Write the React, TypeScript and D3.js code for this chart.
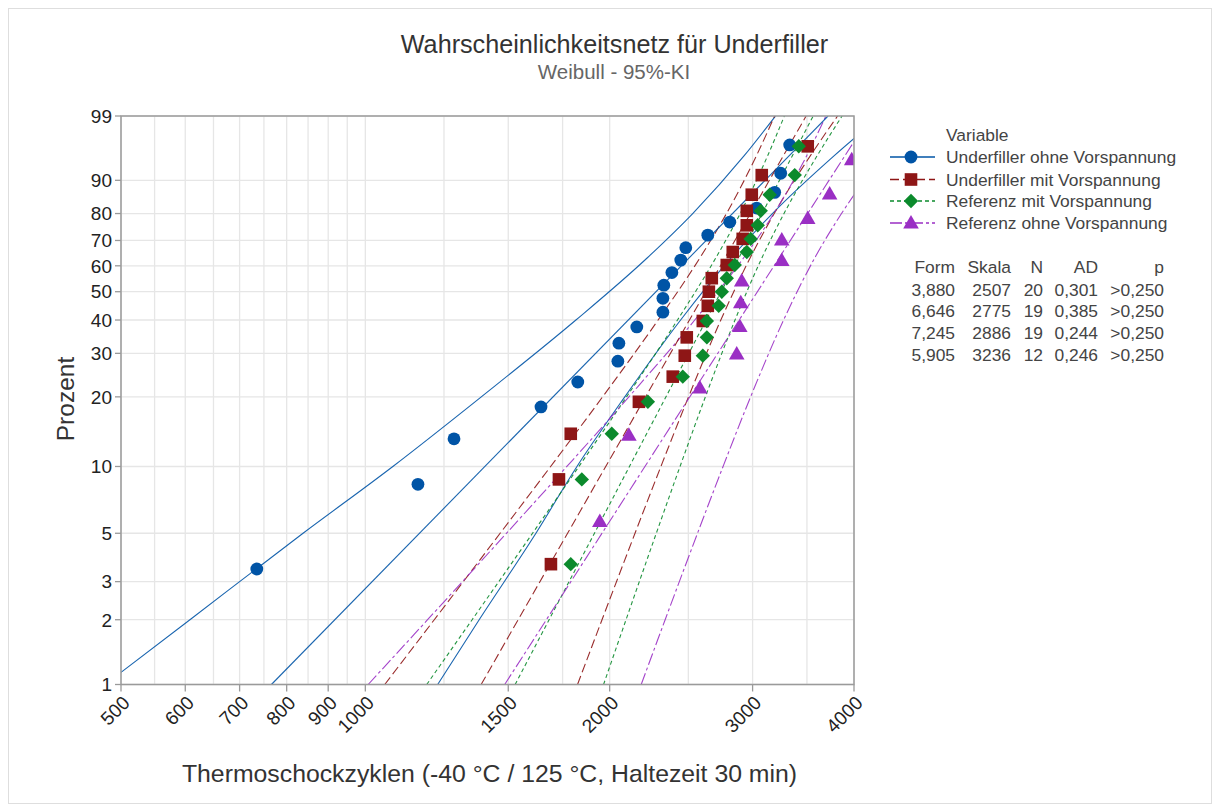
import React from 'react';
import * as d3 from 'd3';

// ---------- data ----------
const seriesNames = [
  'Underfiller ohne Vorspannung',
  'Underfiller mit Vorspannung',
  'Referenz mit Vorspannung',
  'Referenz ohne Vorspannung',
];

// median-rank plotting positions (%)
const ranks20 = [3.43, 8.33, 13.24, 18.14, 23.04, 27.94, 32.84, 37.75, 42.65, 47.55, 52.45, 57.35, 62.25, 67.16, 72.06, 76.96, 81.86, 86.76, 91.67, 96.57];
const ranks19 = [3.61, 8.76, 13.92, 19.07, 24.23, 29.38, 34.54, 39.69, 44.85, 50.0, 55.15, 60.31, 65.46, 70.62, 75.77, 80.93, 86.08, 91.24, 96.39];
const ranks12 = [5.65, 13.71, 21.77, 29.84, 37.9, 45.97, 54.03, 62.1, 70.16, 78.23, 86.29, 94.35];

// observed cycles
const cyclesUohne = [735, 1161, 1286, 1646, 1827, 2047, 2053, 2160, 2326, 2326, 2332, 2386, 2447, 2482, 2642, 2812, 3035, 3194, 3249, 3333];
const cyclesUmit = [1693, 1732, 1791, 2173, 2392, 2475, 2489, 2605, 2642, 2650, 2672, 2788, 2836, 2917, 2951, 2951, 2993, 3079, 3508];
const cyclesRmit = [1791, 1848, 2012, 2229, 2461, 2605, 2635, 2635, 2725, 2749, 2788, 2852, 2951, 2984, 3044, 3070, 3149, 3381, 3420];
const cyclesRohne = [1945, 2112, 2583, 2868, 2893, 2901, 2909, 3259, 3259, 3508, 3733, 3974];

// fitted lines: cycles at 1 % and 99 %
const fitPercent = [1, 99];
const fitUohne = [766.1, 3716];
const fitUmit = [1388.9, 3491.8];
const fitRmit = [1529.5, 3563.1];
const fitRohne = [1484.9, 4191.0];

// 95% confidence bands, cycles at these percent levels
const ciPercent = [1, 2, 5, 10, 20, 40, 63.2, 80, 95, 99];
const ciLoUohne = [478, 608, 838, 1081.2, 1389.5, 1817.4, 2225.9, 2531.2, 2927.7, 3201.4];
const ciHiUohne = [1227.8, 1381.2, 1622.4, 1822.8, 2087.7, 2446.0, 2823.6, 3173.5, 3779.2, 4313.3];
const ciLoUmit = [1056.6, 1216.0, 1465.8, 1691.6, 1960.2, 2294.6, 2584.2, 2785.8, 3032.2, 3193.6];
const ciHiUmit = [1825.7, 1957.1, 2149.1, 2312.9, 2501.4, 2741.5, 2979.9, 3189.9, 3533.2, 3817.9];
const ciLoRmit = [1190.2, 1353.9, 1607.0, 1832.8, 2098.1, 2424.3, 2703.4, 2896.4, 3130.5, 3283.0];
const ciHiRmit = [1965.6, 2095.0, 2282.9, 2441.9, 2623.9, 2854.0, 3080.9, 3279.5, 3601.8, 3867.2];
const ciLoRohne = [1008.1, 1193.1, 1492.4, 1771.4, 2112.0, 2546.0, 2925.4, 3186.8, 3496.9, 3693.3];
const ciHiRohne = [2187.2, 2340.9, 2566.0, 2758.9, 2983.1, 3275.7, 3579.6, 3860.8, 4342.4, 4755.7];

// table
const tableHeader = ['Form', 'Skala', 'N', 'AD', 'p'];
const tableRows = [
  ['3,880', '2507', '20', '0,301', '>0,250'],
  ['6,646', '2775', '19', '0,385', '>0,250'],
  ['7,245', '2886', '19', '0,244', '>0,250'],
  ['5,905', '3236', '12', '0,246', '>0,250'],
];

const yTicks = [1, 2, 3, 5, 10, 20, 30, 40, 50, 60, 70, 80, 90, 99];
const xTickLabels = [500, 600, 700, 800, 900, 1000, 1500, 2000, 3000, 4000];
const xGrid = [500, 550, 600, 650, 700, 750, 800, 850, 900, 950, 1000, 1250, 1500, 1750, 2000, 2500, 3000, 3500, 4000];

// ---------- styling ----------
const colors = ['#0054A6', '#8E1616', '#0B8A2C', '#9A2FC4'];
const dashes = ['', '9,4', '4,3', '12,3,3,3'];
const FONT = '"Liberation Sans", Arial, Helvetica, sans-serif';

const L = 121, R = 854, T = 116, B = 684.5;

const W = (p: number) => Math.log(-Math.log(1 - p / 100));
const x = d3.scaleLog().domain([500, 4000]).range([L, R]);
const yLin = d3.scaleLinear().domain([W(1), W(99)]).range([B, T]);
const y = (p: number) => yLin(W(p));

function marker(kind: number, cx: number, cy: number, color: string, key?: string) {
  if (kind === 0) return <circle key={key} cx={cx} cy={cy} r={6.4} fill={color} />;
  if (kind === 1) return <rect key={key} x={cx - 6.3} y={cy - 6.3} width={12.6} height={12.6} fill={color} />;
  if (kind === 2)
    return <path key={key} d={`M${cx},${cy - 7.2}L${cx + 7.2},${cy}L${cx},${cy + 7.2}L${cx - 7.2},${cy}Z`} fill={color} />;
  return <path key={key} d={`M${cx},${cy - 8}L${cx + 7.8},${cy + 5.5}L${cx - 7.8},${cy + 5.5}Z`} fill={color} />;
}

export default function App() {
  const pts = [
    { c: cyclesUohne, p: ranks20 },
    { c: cyclesUmit, p: ranks19 },
    { c: cyclesRmit, p: ranks19 },
    { c: cyclesRohne, p: ranks12 },
  ];
  const fits = [fitUohne, fitUmit, fitRmit, fitRohne];
  const cis = [
    [ciLoUohne, ciHiUohne],
    [ciLoUmit, ciHiUmit],
    [ciLoRmit, ciHiRmit],
    [ciLoRohne, ciHiRohne],
  ];
  const ciGen = d3
    .line<number>()
    .x((c) => x(c))
    .y((_, i) => y(ciPercent[i]))
    .curve(d3.curveMonotoneX);
  const fitGen = d3
    .line<number>()
    .x((c) => x(c))
    .y((_, i) => y(fitPercent[i]));

  const colRight = [955, 1011, 1043, 1098, 1164];
  const tableY = [273, 295.5, 317.2, 338.9, 360.6];
  const legendY = [157, 179.5, 201, 223];

  return (
    <svg width={1214} height={807} style={{ position: 'absolute', left: 0, top: 0 }} fontFamily={FONT}>
      <rect x={0} y={0} width={1214} height={807} fill="#fff" />
      <rect x={8.5} y={8.5} width={1203} height={795} fill="none" stroke="#dedede" />
      <defs>
        <clipPath id="plotClip">
          <rect x={L} y={T} width={R - L} height={B - T} />
        </clipPath>
      </defs>

      {/* grid */}
      {xGrid.map((v) => (
        <line key={'gx' + v} x1={x(v)} x2={x(v)} y1={T} y2={B} stroke="#e6e6e6" strokeWidth={1.3} />
      ))}
      {yTicks.map((v) => (
        <line key={'gy' + v} x1={L} x2={R} y1={y(v)} y2={y(v)} stroke="#e6e6e6" strokeWidth={1.3} />
      ))}

      {/* lines */}
      <g clipPath="url(#plotClip)" fill="none">
        {cis.map((pair, si) =>
          pair.map((arr, j) => (
            <path
              key={'ci' + si + j}
              d={ciGen(arr) || ''}
              stroke={colors[si]}
              strokeWidth={1.1}
              strokeDasharray={dashes[si] || undefined}
              opacity={0.9}
            />
          ))
        )}
        {fits.map((f, si) => (
          <path
            key={'fit' + si}
            d={fitGen(f) || ''}
            stroke={colors[si]}
            strokeWidth={1.1}
            strokeDasharray={dashes[si] || undefined}
            opacity={0.9}
          />
        ))}
      </g>

      {/* markers */}
      <g clipPath="url(#plotClip)">
        {pts.map((s, si) => s.c.map((c, i) => marker(si, x(c), y(s.p[i]), colors[si], `m${si}-${i}`)))}
      </g>

      {/* frame */}
      <rect x={L} y={T} width={R - L} height={B - T} fill="none" stroke="#9a9a9a" strokeWidth={1.5} />

      {/* y ticks */}
      {yTicks.map((v) => (
        <g key={'yt' + v}>
          <line x1={L - 6} x2={L} y1={y(v)} y2={y(v)} stroke="#9a9a9a" strokeWidth={1.3} />
          <text x={112} y={y(v) + 6.8} textAnchor="end" fontSize={19} fill="#222">
            {v}
          </text>
        </g>
      ))}

      {/* x ticks */}
      {xTickLabels.map((v) => (
        <g key={'xt' + v}>
          <line x1={x(v)} x2={x(v)} y1={B} y2={B + 7} stroke="#9a9a9a" strokeWidth={1.3} />
          <text
            transform={`translate(${x(v) + 10},${704}) rotate(-45)`}
            textAnchor="end"
            fontSize={19}
            fill="#222"
          >
            {v}
          </text>
        </g>
      ))}

      {/* titles */}
      <text x={614.5} y={53} textAnchor="middle" fontSize={25.2} fill="#333">
        Wahrscheinlichkeitsnetz für Underfiller
      </text>
      <text x={614} y={79} textAnchor="middle" fontSize={20.5} fill="#666">
        Weibull - 95%-KI
      </text>
      <text x={489.5} y={782} textAnchor="middle" fontSize={24.8} fill="#333">
        Thermoschockzyklen (-40 °C / 125 °C, Haltezeit 30 min)
      </text>
      <text transform="translate(74,399) rotate(-90)" textAnchor="middle" fontSize={24.5} fill="#333">
        Prozent
      </text>

      {/* legend */}
      <text x={946} y={141} fontSize={17.4} fill="#444">
        Variable
      </text>
      {seriesNames.map((n, i) => (
        <g key={'lg' + i}>
          <line
            x1={890}
            x2={935}
            y1={legendY[i]}
            y2={legendY[i]}
            stroke={colors[i]}
            strokeWidth={1.3}
            strokeDasharray={dashes[i] || undefined}
          />
          {marker(i, 911, legendY[i], colors[i])}
          <text x={946} y={legendY[i] + 6} fontSize={17.4} fill="#444">
            {n}
          </text>
        </g>
      ))}

      {/* table */}
      {tableHeader.map((h, j) => (
        <text key={'th' + j} x={colRight[j]} y={tableY[0]} textAnchor="end" fontSize={17.4} fill="#444">
          {h}
        </text>
      ))}
      {tableRows.map((row, i) =>
        row.map((cell, j) => (
          <text key={'td' + i + j} x={colRight[j]} y={tableY[i + 1]} textAnchor="end" fontSize={17.4} fill="#444">
            {cell}
          </text>
        ))
      )}
    </svg>
  );
}
